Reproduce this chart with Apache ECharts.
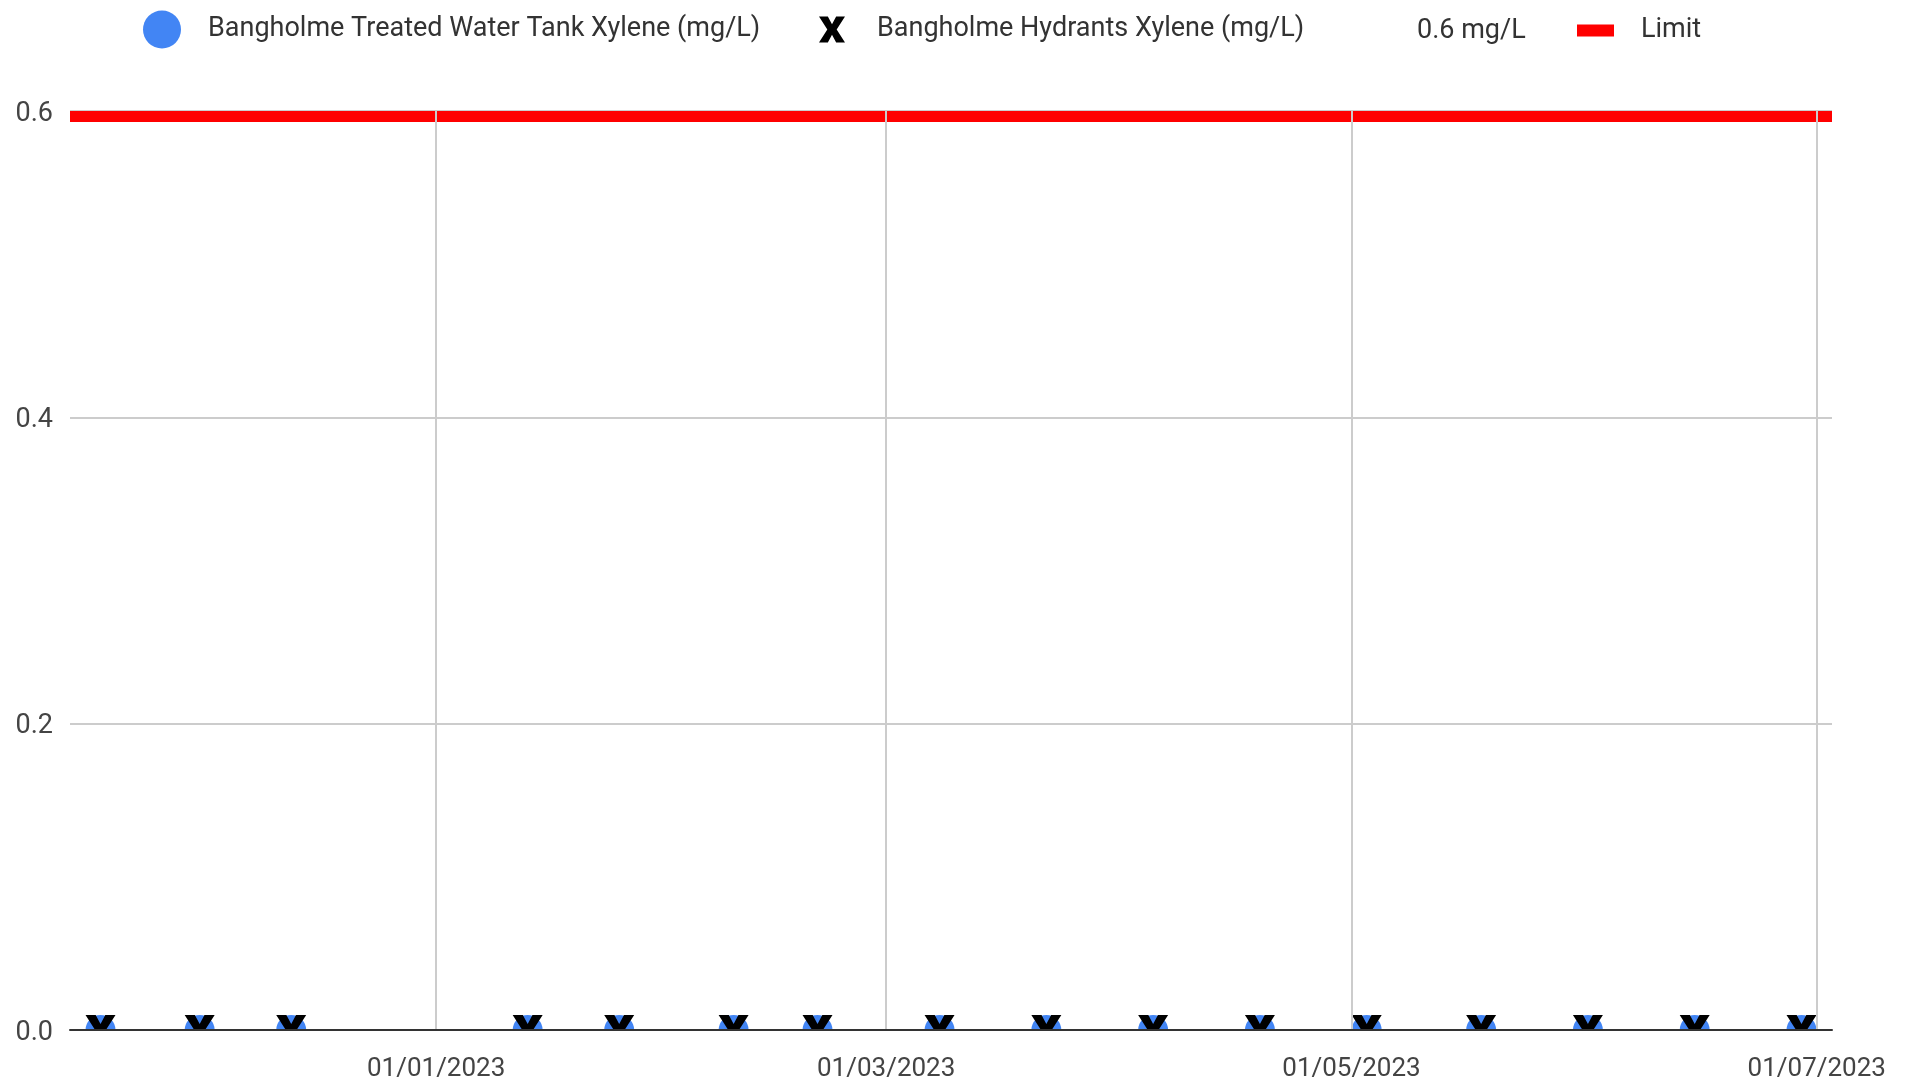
<!DOCTYPE html>
<html>
<head>
<meta charset="utf-8">
<script src="https://cdn.jsdelivr.net/npm/echarts@6/dist/echarts.min.js"></script>
<style>html,body{margin:0;padding:0;background:#fff;}#chart{width:1907px;height:1086px;}</style>
</head>
<body>
<div id="chart"></div>
<script>
// ---- data ----
const sampleDates = ['2022-11-18','2022-12-01','2022-12-13','2023-01-13','2023-01-25','2023-02-09','2023-02-20','2023-03-08','2023-03-22','2023-04-05','2023-04-19','2023-05-03','2023-05-18','2023-06-01','2023-06-15','2023-06-29'];
const tankXylene = [0,0,0,0,0,0,0,0,0,0,0,0,0,0,0,0];
const hydrantXylene = [0,0,0,0,0,0,0,0,0,0,0,0,0,0,0,0];
const limitValue = 0.6;
const xTickDates = ['2023-01-01','2023-03-01','2023-05-01','2023-07-01'];
const yTicks = [0, 0.2, 0.4, 0.6];
const seriesNames = ['Bangholme Treated Water Tank Xylene (mg/L)','Bangholme Hydrants Xylene (mg/L)','0.6 mg/L','Limit'];

const FONT = "'Liberation Sans Narrow', 'Arial Narrow', 'Roboto', sans-serif";
const ts = d => new Date(d + 'T00:00:00').getTime();
const X_PATH = 'M0,0 L3.4,0 L5,3 L6.6,0 L10,0 L6.8,5 L10,10 L6.6,10 L5,7 L3.4,10 L0,10 L3.2,5 Z';

const chart = echarts.init(document.getElementById('chart'), null, {renderer: 'canvas'});

function legendBox(name, left, top, w, h, icon, padLeft) {
  return {
    data: [{name: name, icon: icon}],
    left: left, top: top, itemWidth: w, itemHeight: h, padding: 0,
    selectedMode: false,
    textStyle: {fontFamily: FONT, fontSize: 27, color: '#333', lineHeight: 10, padding: [0,0,0,padLeft]}
  };
}

const option = {
  animation: false,
  backgroundColor: '#fff',
  legend: [
    legendBox(seriesNames[0], 143, 10.5, 38, 38, 'circle', 22),
    legendBox(seriesNames[1], 819, 16, 26, 26, 'path://' + X_PATH, 27),
    legendBox(seriesNames[2], 1411, 17.5, 1, 16, 'none', 0),
    legendBox(seriesNames[3], 1577, 17, 37, 12, 'rect', 22)
  ],
  grid: {left: 70, right: 75, top: 111, bottom: 56, containLabel: false},
  xAxis: {
    type: 'time',
    min: ts('2022-11-14'),
    max: ts('2023-07-03'),
    axisLine: {show: true, onZero: false, lineStyle: {color: '#333', width: 2}},
    axisTick: {show: false, customValues: xTickDates.map(ts)},
    axisLabel: {
      customValues: xTickDates.map(ts),
      formatter: '{dd}/{MM}/{yyyy}',
      fontFamily: FONT, fontSize: 26, color: '#444', margin: 26,
      showMinLabel: true, showMaxLabel: true, hideOverlap: false
    },
    splitLine: {show: true, lineStyle: {color: '#cccccc', width: 2}},
    z: 5
  },
  yAxis: {
    type: 'value',
    min: yTicks[0], max: yTicks[yTicks.length - 1], interval: 0.2,
    axisLine: {show: false},
    axisTick: {show: false},
    axisLabel: {
      formatter: v => '{a|' + v.toFixed(1) + '}',
      margin: 17,
      rich: {a: {fontFamily: FONT, fontSize: 27, color: '#444', padding: [6, 0, 0, 0]}}
    },
    splitLine: {show: true, lineStyle: {color: '#cccccc', width: 2}}
  },
  series: [
    {
      name: seriesNames[0], type: 'custom', clip: true, z: 3,
      itemStyle: {color: '#4285F4'},
      data: sampleDates.map((d, i) => [ts(d), tankXylene[i]]),
      renderItem: (params, api) => {
        const p = api.coord([api.value(0), api.value(1)]);
        return {type: 'circle', shape: {cx: p[0], cy: p[1], r: 15}, style: {fill: '#4285F4'}};
      }
    },
    {
      name: seriesNames[1], type: 'custom', clip: true, z: 4,
      itemStyle: {color: '#000'},
      data: sampleDates.map((d, i) => [ts(d), hydrantXylene[i]]),
      renderItem: (params, api) => {
        const p = api.coord([api.value(0), api.value(1)]);
        const s = 30;
        return {type: 'path', shape: {pathData: X_PATH, x: p[0] - s/2, y: p[1] - s/2, width: s, height: s, layout: 'center'}, style: {fill: '#000'}};
      }
    },
    {
      name: seriesNames[2], type: 'line', data: [], itemStyle: {color: 'rgba(0,0,0,0)'}
    },
    {
      name: seriesNames[3], type: 'custom', z: 2,
      itemStyle: {color: '#ff0000'},
      data: [[ts('2023-01-01'), limitValue]],
      renderItem: (params, api) => {
        const p = api.coord([api.value(0), api.value(1)]);
        const cs = params.coordSys;
        return {type: 'rect', shape: {x: cs.x, y: p[1], width: cs.width, height: 11}, style: {fill: '#ff0000'}};
      }
    }
  ]
};
chart.setOption(option);
</script>
</body>
</html>
